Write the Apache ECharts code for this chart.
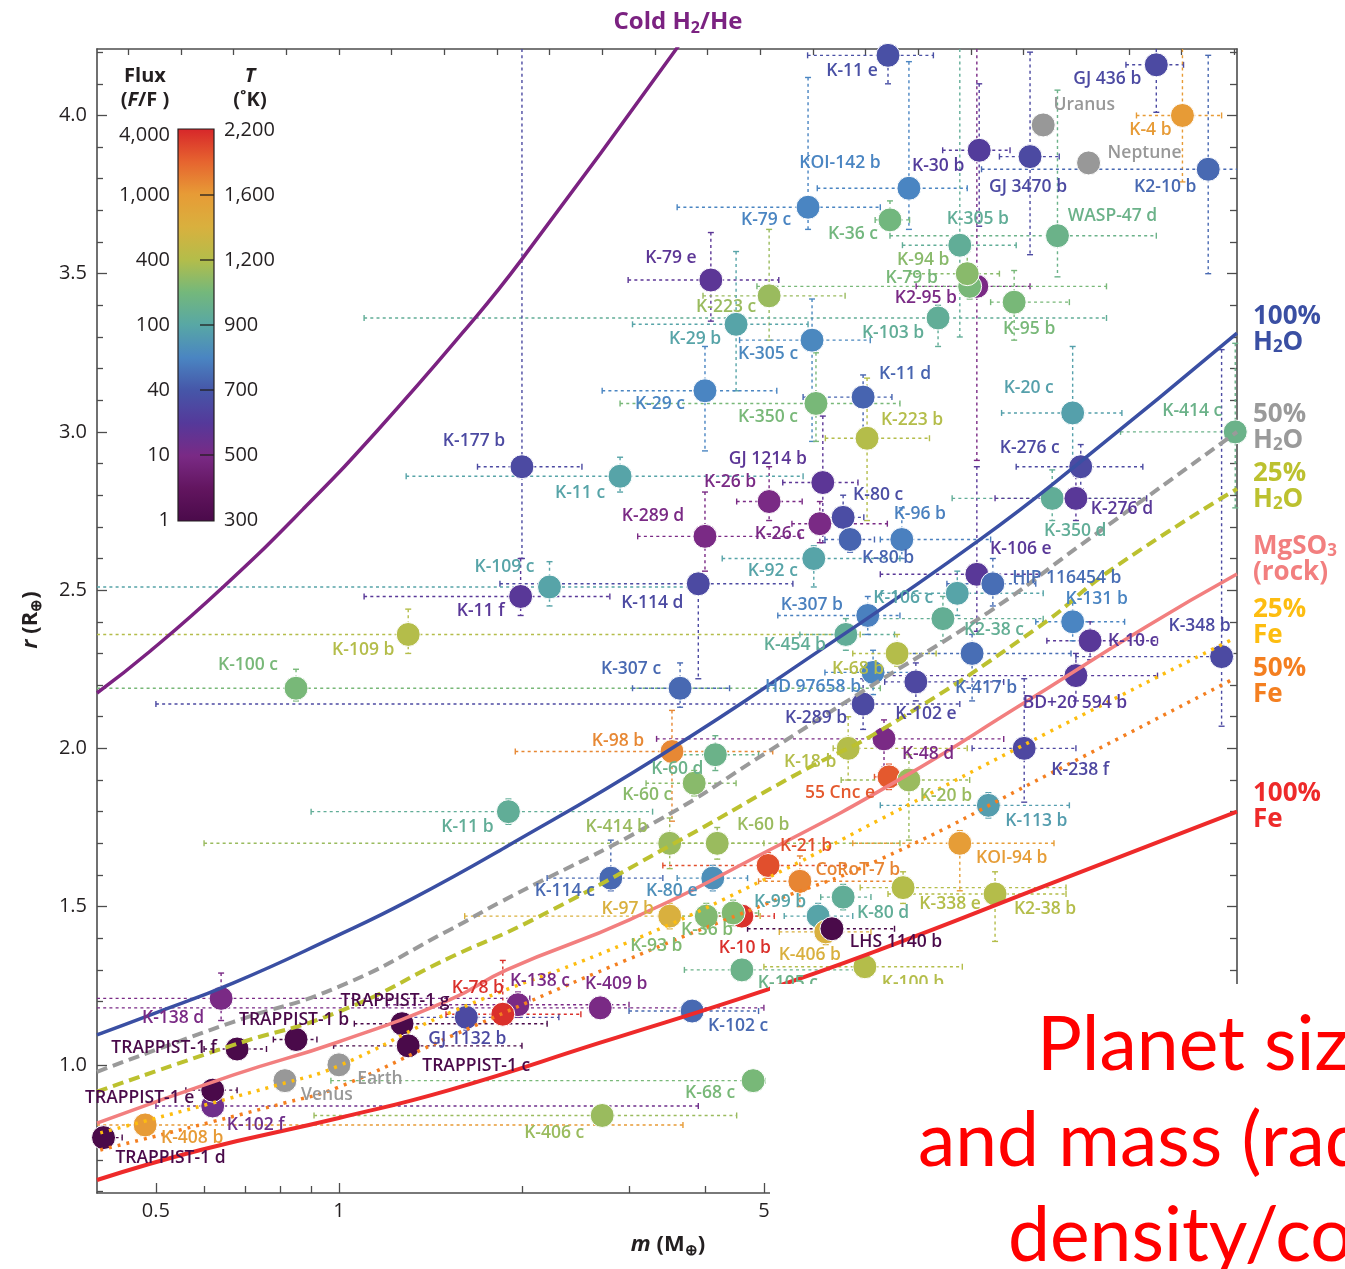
<!DOCTYPE html>
<html>
<head>
<meta charset="utf-8">
<title>Exoplanet mass–radius diagram</title>
<script src="https://cdn.jsdelivr.net/npm/echarts@6/dist/echarts.min.js"></script>
<style>
  html, body { margin: 0; padding: 0; background: #fff; }
  #chart { width: 1345px; height: 1269px; }
</style>
</head>
<body>
<div id="chart"></div>
<script>
// ---------------------------------------------------------------------------
// Axis ticks and colour-bar ticks
// ---------------------------------------------------------------------------
const massTicksMajor = [0.5, 1, 5];
const massTicksMinor = [0.6, 0.7, 0.8, 0.9, 2, 3, 4];
const radiusTicksMajor = [1.0, 1.5, 2.0, 2.5, 3.0, 3.5, 4.0];
const tempTicks = [300, 500, 700, 900, 1200, 1600, 2200];   // K
const fluxTicks = [1, 10, 40, 100, 400, 1000, 4000];       // F / F(Earth)

// ---------------------------------------------------------------------------
// Planets: name, mass (M⊕), radius (R⊕), equilibrium temperature (K)
// Solar-system bodies carry no temperature and are drawn grey.
// ---------------------------------------------------------------------------
const planets = [
  ['K-11 e', 8.0, 4.19, 680],
  ['GJ 436 b', 22.1, 4.16, 660],
  ['Uranus', 14.4, 3.97, null],
  ['K-4 b', 24.4, 4.0, 1600],
  ['Neptune', 17.1, 3.85, null],
  ['K-30 b', 11.3, 3.89, 610],
  ['GJ 3470 b', 13.7, 3.87, 660],
  ['K2-10 b', 26.9, 3.83, 740],
  ['KOI-142 b', 8.66, 3.77, 800],
  ['K-79 c', 5.91, 3.71, 800],
  ['K-36 c', 8.06, 3.67, 1040],
  ['K-305 b', 10.5, 3.59, 950],
  ['WASP-47 d', 15.2, 3.62, 1000],
  ['K-79 e', 4.09, 3.48, 580],
  ['K2-95 b', 11.2, 3.46, 500],
  ['K-79 b', 10.9, 3.46, 1060],
  ['K-94 b', 10.8, 3.50, 1100],
  ['K-223 c', 5.10, 3.43, 1140],
  ['K-95 b', 12.9, 3.41, 1060],
  ['K-103 b', 9.67, 3.36, 950],
  ['K-29 b', 4.50, 3.34, 890],
  ['K-305 c', 6.0, 3.29, 810],
  ['K-20 c', 16.1, 3.06, 880],
  ['K-414 c', 29.8, 3.0, 1000],
  ['K-29 c', 4.0, 3.13, 800],
  ['K-350 c', 6.09, 3.09, 1060],
  ['K-11 d', 7.28, 3.11, 730],
  ['K-223 b', 7.39, 2.98, 1200],
  ['K-177 b', 2.0, 2.89, 660],
  ['K-11 c', 2.90, 2.86, 890],
  ['GJ 1214 b', 6.25, 2.84, 580],
  ['K-26 b', 5.10, 2.78, 500],
  ['K-80 c', 6.75, 2.73, 670],
  ['K-26 c', 6.18, 2.71, 500],
  ['K-289 d', 4.0, 2.67, 500],
  ['K-80 b', 6.93, 2.66, 730],
  ['K-96 b', 8.43, 2.66, 790],
  ['K-92 c', 6.04, 2.60, 890],
  ['K-114 d', 3.90, 2.52, 660],
  ['K-109 c', 2.22, 2.51, 890],
  ['K-11 f', 1.99, 2.48, 590],
  ['K-109 b', 1.30, 2.36, 1200],
  ['K-100 c', 0.85, 2.19, 1060],
  ['K-307 c', 3.64, 2.19, 740],
  ['K-454 b', 6.82, 2.36, 950],
  ['HD 97658 b', 7.56, 2.24, 800],
  ['K-68 b', 8.28, 2.30, 1200],
  ['K-289 b', 7.28, 2.14, 660],
  ['K-102 e', 8.89, 2.21, 650],
  ['K-48 d', 7.88, 2.03, 500],
  ['K-98 b', 3.53, 1.99, 1700],
  ['K-60 d', 4.16, 1.98, 1000],
  ['K-18 b', 6.88, 2.0, 1200],
  ['K-60 c', 3.84, 1.89, 1100],
  ['55 Cnc e', 8.03, 1.91, 1950],
  ['K-20 b', 8.66, 1.90, 1140],
  ['K-238 f', 13.4, 2.0, 650],
  ['BD+20 594 b', 16.3, 2.23, 600],
  ['K-348 b', 28.3, 2.29, 660],
  ['K-10 c', 17.2, 2.34, 590],
  ['K-131 b', 16.1, 2.40, 800],
  ['K2-38 c', 9.85, 2.41, 960],
  ['K-417 b', 11.0, 2.30, 750],
  ['K-106 c', 10.4, 2.49, 890],
  ['K-106 e', 11.2, 2.55, 590],
  ['HIP 116454 b', 11.9, 2.52, 750],
  ['K-307 b', 7.41, 2.42, 790],
  ['K-350 d', 14.9, 2.79, 950],
  ['K-276 d', 16.3, 2.79, 590],
  ['K-276 c', 16.6, 2.89, 660],
  ['K-11 b', 1.90, 1.80, 950],
  ['K-414 b', 3.50, 1.70, 1140],
  ['K-60 b', 4.19, 1.70, 1140],
  ['K-21 b', 5.08, 1.63, 2000],
  ['CoRoT-7 b', 5.73, 1.58, 1720],
  ['K-114 c', 2.80, 1.59, 740],
  ['K-80 e', 4.12, 1.59, 830],
  ['K-97 b', 3.50, 1.47, 1400],
  ['K-10 b', 4.60, 1.47, 2150],
  ['K-93 b', 4.02, 1.47, 1080],
  ['K-36 b', 4.45, 1.48, 1080],
  ['K-99 b', 6.14, 1.47, 890],
  ['K-80 d', 6.75, 1.53, 950],
  ['K-406 b', 6.32, 1.42, 1400],
  ['LHS 1140 b', 6.47, 1.43, 300],
  ['K-338 e', 8.47, 1.56, 1200],
  ['K2-38 b', 12.0, 1.54, 1200],
  ['KOI-94 b', 10.5, 1.70, 1580],
  ['K-113 b', 11.7, 1.82, 870],
  ['K-105 c', 4.60, 1.30, 1000],
  ['K-100 b', 7.33, 1.31, 1200],
  ['K-138 c', 1.97, 1.19, 500],
  ['K-78 b', 1.86, 1.16, 2150],
  ['K-409 b', 2.69, 1.18, 500],
  ['GJ 1132 b', 1.62, 1.15, 660],
  ['K-102 c', 3.81, 1.17, 740],
  ['K-68 c', 4.80, 0.95, 1060],
  ['K-406 c', 2.71, 0.84, 1140],
  ['TRAPPIST-1 g', 1.27, 1.13, 300],
  ['TRAPPIST-1 c', 1.30, 1.06, 300],
  ['TRAPPIST-1 b', 0.85, 1.08, 300],
  ['TRAPPIST-1 f', 0.68, 1.05, 300],
  ['K-138 d', 0.64, 1.21, 500],
  ['K-102 f', 0.62, 0.87, 530],
  ['TRAPPIST-1 e', 0.62, 0.92, 300],
  ['K-408 b', 0.48, 0.81, 1600],
  ['TRAPPIST-1 d', 0.41, 0.77, 300],
  ['Venus', 0.815, 0.95, null],
  ['Earth', 1.0, 1.0, null]
];

// Uncertainty ranges: [mass low, mass high, radius low, radius high]
const errorBars = {
  'K-11 e': [5.9, 9.5, 4.10, 4.3],
  'GJ 436 b': [19.7, 24.5, 4.01, 4.3],
  'K-4 b': [20.5, 28.3, 3.79, 4.3],
  'K-30 b': [9.84, 12.7, 3.65, 4.10],
  'GJ 3470 b': [12.2, 15.3, 3.56, 4.20],
  'K2-10 b': [11.4, 31, 3.50, 4.19],
  'KOI-142 b': [6.12, 10.8, 3.64, 4.17],
  'K-79 c': [3.60, 7.77, 3.64, 4.12],
  'K-36 c': [7.62, 8.68, 3.64, 3.73],
  'K-305 b': [8.45, 13.0, 3.30, 4.3],
  'WASP-47 d': [8.06, 22.1, 3.49, 4.08],
  'K-79 e': [2.99, 5.29, 3.35, 3.63],
  'K2-95 b': [8.9, 13.7, 2.91, 4.3],
  'K-79 b': [4.87, 18.3, 3.42, 3.52],
  'K-94 b': [8.68, 12.2, 3.45, 3.57],
  'K-223 c': [3.97, 6.80, 3.29, 3.64],
  'K-95 b': [11.8, 15.9, 3.29, 3.51],
  'K-103 b': [1.10, 18.3, 3.27, 3.40],
  'K-29 b': [3.04, 5.91, 3.13, 3.57],
  'K-305 c': [4.56, 7.48, 2.97, 3.42],
  'K-20 c': [12.3, 19.4, 2.88, 3.27],
  'K-414 c': [19.3, 31, 2.76, 3.28],
  'K-29 c': [2.71, 5.25, 2.94, 3.27],
  'K-350 c': [2.90, 8.37, 2.97, 3.25],
  'K-11 d': [5.80, 8.12, 2.99, 3.18],
  'K-223 b': [6.31, 9.36, 2.72, 3.17],
  'K-177 b': [1.69, 2.51, 2.60, 4.3],
  'K-11 c': [1.29, 5.80, 2.81, 2.92],
  'GJ 1214 b': [5.37, 7.14, 2.65, 3.05],
  'K-26 b': [4.51, 5.78, 2.72, 2.89],
  'K-80 c': [6.2, 7.3, 2.70, 2.80],
  'K-26 c': [5.56, 7.98, 2.65, 2.78],
  'K-289 d': [3.10, 5.73, 2.56, 2.81],
  'K-80 b': [6.3, 7.6, 2.62, 2.71],
  'K-96 b': [7.77, 11.8, 2.60, 2.76],
  'K-92 c': [4.27, 8.37, 2.51, 2.64],
  'K-114 d': [1.84, 5.58, 2.22, 2.55],
  'K-109 c': [0.39, 3.78, 2.45, 2.59],
  'K-11 f': [1.10, 2.79, 2.42, 2.60],
  'K-109 b': [0.39, 7.2, 2.30, 2.44],
  'K-100 c': [0.39, 7.77, 2.15, 2.25],
  'K-307 c': [3.04, 4.39, 2.13, 2.27],
  'K-454 b': [5.73, 8.2, 2.31, 2.41],
  'HD 97658 b': [6.3, 8.9, 2.17, 2.31],
  'K-68 b': [7.0, 9.6, 2.26, 2.36],
  'K-289 b': [0.50, 10.5, 2.06, 2.22],
  'K-102 e': [7.9, 12.4, 2.15, 2.27],
  'K-48 d': [3.33, 12.4, 1.94, 2.09],
  'K-98 b': [1.95, 5.17, 1.77, 2.12],
  'K-60 d': [3.6, 4.9, 1.93, 2.04],
  'K-18 b': [6.5, 10.8, 1.90, 2.10],
  'K-60 c': [3.2, 4.5, 1.85, 1.93],
  '55 Cnc e': [7.6, 8.5, 1.87, 1.95],
  'K-20 b': [6.7, 10.9, 1.71, 1.98],
  'K-238 f': [11.0, 16.3, 1.83, 2.22],
  'BD+20 594 b': [7.77, 22.2, 2.15, 2.30],
  'K-348 b': [16.3, 29.5, 2.07, 3.26],
  'K-10 c': [14.6, 22.2, 2.28, 2.40],
  'K-131 b': [14.0, 19.6, 2.34, 2.46],
  'K2-38 c': [7.5, 14.4, 2.34, 2.48],
  'K-417 b': [8.0, 16.0, 2.15, 2.36],
  'K-106 c': [7.8, 14.4, 2.42, 2.56],
  'K-106 e': [7.77, 14.2, 2.37, 2.89],
  'HIP 116454 b': [10.0, 14.0, 2.45, 2.60],
  'K-307 b': [5.27, 8.37, 2.36, 2.48],
  'K-350 d': [10.2, 21.3, 2.72, 2.88],
  'K-276 d': [12.0, 21.3, 2.72, 2.86],
  'K-276 c': [13.0, 21.0, 2.82, 2.96],
  'K-11 b': [0.90, 3.28, 1.76, 1.84],
  'K-414 b': [0.60, 8.37, 1.62, 1.78],
  'K-60 b': [3.5, 5.0, 1.65, 1.75],
  'K-21 b': [3.41, 6.80, 1.59, 1.67],
  'CoRoT-7 b': [4.9, 8.37, 1.50, 1.66],
  'K-114 c': [2.20, 3.41, 1.55, 1.71],
  'K-80 e': [3.6, 4.7, 1.55, 1.63],
  'K-97 b': [1.61, 4.93, 1.43, 1.51],
  'K-10 b': [4.1, 5.2, 1.44, 1.50],
  'K-93 b': [3.5, 4.6, 1.43, 1.51],
  'K-36 b': [4.0, 4.9, 1.44, 1.52],
  'K-99 b': [5.4, 7.0, 1.43, 1.51],
  'K-80 d': [6.2, 7.5, 1.49, 1.57],
  'K-406 b': [5.3, 7.5, 1.38, 1.46],
  'LHS 1140 b': [4.7, 8.2, 1.41, 1.45],
  'K-338 e': [7.2, 15.7, 1.51, 1.61],
  'K2-38 b': [8.0, 15.7, 1.39, 1.61],
  'KOI-94 b': [7.0, 15.0, 1.55, 1.74],
  'K-113 b': [7.77, 15.9, 1.78, 1.86],
  'K-105 c': [3.7, 7.2, 1.27, 1.33],
  'K-100 b': [5.0, 10.6, 1.28, 1.34],
  'K-138 c': [1.2, 3.0, 1.15, 1.23],
  'K-78 b': [1.5, 2.5, 1.15, 1.33],
  'K-409 b': [0.39, 5.0, 1.15, 1.21],
  'GJ 1132 b': [1.3, 2.3, 1.11, 1.19],
  'K-102 c': [3.0, 4.9, 1.15, 1.20],
  'K-68 c': [0.97, 5.02, 0.93, 0.97],
  'K-406 c': [0.91, 4.51, 0.82, 0.86],
  'TRAPPIST-1 g': [1.06, 2.2, 1.11, 1.15],
  'TRAPPIST-1 c': [0.98, 2.0, 1.04, 1.08],
  'TRAPPIST-1 b': [0.78, 0.92, 1.06, 1.10],
  'TRAPPIST-1 f': [0.60, 0.76, 1.03, 1.07],
  'K-138 d': [0.39, 2.06, 1.14, 1.29],
  'K-102 f': [0.50, 3.9, 0.84, 0.90],
  'TRAPPIST-1 e': [0.56, 0.68, 0.90, 0.94],
  'K-408 b': [0.39, 3.68, 0.79, 0.83],
  'TRAPPIST-1 d': [0.39, 0.44, 0.75, 0.79]
};

// Where each name sits relative to its marker, in pixels [dx, dy]
const labelOffsets = {
  'K-11 e': [-36, 16], 'GJ 436 b': [-49, 14], 'Uranus': [41, -20], 'K-4 b': [-32, 15],
  'Neptune': [56, -10], 'K-30 b': [-41, 16], 'GJ 3470 b': [-2, 30], 'K2-10 b': [-43, 18],
  'KOI-142 b': [-69, -25], 'K-79 c': [-42, 13], 'K-36 c': [-37, 14], 'K-305 b': [18, -26],
  'WASP-47 d': [55, -20], 'K-79 e': [-40, -22], 'K-94 b': [-44, -14], 'K-79 b': [-58, -8],
  'K2-95 b': [-51, 12], 'K-223 c': [-43, 11], 'K-95 b': [15, 27], 'K-103 b': [-45, 15],
  'K-29 b': [-41, 15], 'K-305 c': [-44, 14], 'K-20 c': [-44, -25], 'K-414 c': [-43, -21],
  'K-29 c': [-45, 13], 'K-350 c': [-48, 14], 'K-11 d': [42, -23], 'K-223 b': [45, -18],
  'K-177 b': [-48, -26], 'K-11 c': [-40, 17], 'GJ 1214 b': [-55, -24], 'K-26 b': [-39, -20],
  'K-80 c': [35, -22], 'K-26 c': [-40, 10], 'K-289 d': [-52, -20], 'K-80 b': [38, 19],
  'K-96 b': [18, -25], 'K-92 c': [-41, 13], 'K-114 d': [-46, 19], 'K-109 c': [-45, -20],
  'K-11 f': [-40, 15], 'K-109 b': [-45, 16], 'K-100 c': [-48, -23], 'K-307 c': [-49, -19],
  'K-454 b': [-51, 11], 'K-68 b': [-39, 16], 'HD 97658 b': [-60, 15], 'K-289 b': [-47, 14],
  'K-102 e': [10, 32], 'K-48 d': [44, 15], 'K-98 b': [-54, -11], 'K-60 d': [-38, 14],
  'K-18 b': [-38, 14], 'K-60 c': [-47, 12], '55 Cnc e': [-49, 16], 'K-20 b': [37, 16],
  'K-238 f': [56, 22], 'BD+20 594 b': [-1, 27], 'K-348 b': [-22, -31], 'K-10 c': [43, 0],
  'K-131 b': [24, -23], 'K2-38 c': [51, 11], 'K-417 b': [14, 35], 'K-106 e': [44, -25],
  'HIP 116454 b': [74, -6], 'K-106 c': [-54, 5], 'K-307 b': [-56, -10], 'K-350 d': [23, 33],
  'K-276 d': [46, 11], 'K-276 c': [-51, -19], 'K-11 b': [-41, 15], 'K-414 b': [-53, -16],
  'K-60 b': [46, -18], 'K-21 b': [38, -19], 'CoRoT-7 b': [58, -11], 'K-114 c': [-46, 13],
  'K-80 e': [-41, 13], 'K-97 b': [-42, -7], 'K-93 b': [-50, 30], 'K-36 b': [-26, 17],
  'K-10 b': [3, 32], 'K-99 b': [-38, -14], 'K-80 d': [40, 16], 'LHS 1140 b': [64, 13],
  'K-406 b': [-16, 23], 'K-338 e': [47, 16], 'K2-38 b': [50, 15], 'KOI-94 b': [52, 15],
  'K-113 b': [48, 16], 'K-105 c': [46, 13], 'K-100 b': [48, 16], 'K-138 c': [22, -24],
  'K-78 b': [-25, -26], 'K-409 b': [16, -24], 'GJ 1132 b': [1, 22], 'K-102 c': [46, 15],
  'K-68 c': [-43, 12], 'K-406 c': [-48, 18], 'TRAPPIST-1 g': [-7, -23], 'TRAPPIST-1 c': [68, 20],
  'TRAPPIST-1 b': [-2, -20], 'TRAPPIST-1 f': [-73, -1], 'K-138 d': [-48, 20], 'TRAPPIST-1 e': [-73, 8],
  'K-102 f': [43, 19], 'K-408 b': [47, 13], 'TRAPPIST-1 d': [67, 20], 'Venus': [42, 14],
  'Earth': [41, 14]
};

// ---------------------------------------------------------------------------
// Composition models: [mass (M⊕), radius (R⊕)]
// ---------------------------------------------------------------------------
const coldH2He = [[0.40, 2.175], [0.489, 2.307], [0.645, 2.51], [0.873, 2.756], [1.155, 3.003],
  [1.60, 3.315], [2.0, 3.546], [3.625, 4.222]];
const water100 = [[0.40, 1.095], [0.49, 1.158], [0.671, 1.259], [0.978, 1.402], [1.312, 1.522],
  [1.876, 1.687], [3.37, 1.976], [6.12, 2.304], [11.3, 2.658], [16.5, 2.902], [30, 3.312]];
const water50 = [[0.40, 0.978], [0.671, 1.136], [1.0, 1.247], [1.523, 1.427], [1.838, 1.513],
  [3.37, 1.775], [5.05, 1.987], [7.36, 2.187], [11.7, 2.43], [16.5, 2.639], [30, 3.0]];
const water25 = [[0.40, 0.915], [0.671, 1.063], [1.0, 1.168], [1.523, 1.339], [2.087, 1.459],
  [3.735, 1.722], [5.73, 1.924], [7.83, 2.06], [14.0, 2.377], [18.68, 2.566], [30, 2.82]];
const rockMgSiO3 = [[0.40, 0.816], [0.671, 0.968], [1.0, 1.073], [1.523, 1.206], [1.891, 1.301],
  [3.01, 1.459], [5.05, 1.674], [8.36, 1.902], [13.2, 2.136], [21.2, 2.383], [30, 2.551]];
const iron25 = [[0.405, 0.785], [0.816, 0.943], [1.0, 0.997], [1.523, 1.165], [2.98, 1.386],
  [5.0, 1.585], [7.76, 1.775], [14.7, 2.051], [29.5, 2.345]];
const iron50 = [[0.405, 0.731], [0.816, 0.88], [1.0, 0.93], [1.523, 1.089], [2.98, 1.332],
  [5.0, 1.506], [7.76, 1.649], [14.7, 1.918], [29.5, 2.218]];
const iron100 = [[0.40, 0.636], [0.592, 0.731], [1.0, 0.832], [1.523, 0.921], [2.69, 1.07],
  [5.05, 1.237], [7.76, 1.364], [14.7, 1.57], [30, 1.80]];

// ---------------------------------------------------------------------------
// Styling helpers
// ---------------------------------------------------------------------------
const FONT = "'Open Sans', 'Noto Sans', sans-serif";
const INK = '#231f20';
const AXIS = '#4d4d4d';
const SOLAR_GREY = '#989898';

// Temperature colour ramp, bottom (300 K) to top (2,200 K), one colour per half tick
const ramp = ['#4a0a4a', '#62155f', '#7a2a85', '#55399a', '#4656a8', '#4a85c2', '#58a7a5',
  '#74b87b', '#b4bd4a', '#d9b03e', '#e79b36', '#e6632f', '#d7262a'];

// Position of a temperature along the bar (0 = 300 K ... 6 = 2,200 K)
function tempToBar(t) {
  for (let i = 0; i < tempTicks.length - 1; i++) {
    if (t <= tempTicks[i + 1]) {
      return i + (t - tempTicks[i]) / (tempTicks[i + 1] - tempTicks[i]);
    }
  }
  return tempTicks.length - 1;
}

const exoRows = [];
const solarRows = [];
planets.forEach((p, i) => {
  if (p[3] == null) solarRows.push([p[1], p[2], 0, i]);
  else exoRows.push([p[1], p[2], tempToBar(p[3]), i]);
});
const barRows = planets.filter(p => errorBars[p[0]]).map(p => {
  const e = errorBars[p[0]];
  return [p[1], p[2], tempToBar(p[3]), e[0], e[1], e[2], e[3]];
});

const radiusTicksMinor = [];
for (let k = 6; k <= 42; k++) {
  if (k % 5 !== 0) radiusTicksMinor.push(k / 10);
}
const topTicks = [];
for (let k = 0; k <= 21; k++) topTicks.push(k);

// ---------------------------------------------------------------------------
// Series renderers
// ---------------------------------------------------------------------------
function renderErrorBar(params, api) {
  const m = api.value(0), r = api.value(1);
  const c = api.coord([m, r]);
  const lo = api.coord([api.value(3), r]);
  const hi = api.coord([api.value(4), r]);
  const bot = api.coord([m, api.value(5)]);
  const top = api.coord([m, api.value(6)]);
  const cs = params.coordSys;
  const x0 = cs.x, x1 = cs.x + cs.width, y0 = cs.y, y1 = cs.y + cs.height;
  const cx = v => Math.max(x0, Math.min(x1, v));
  const cy = v => Math.max(y0, Math.min(y1, v));
  const color = api.visual('color');
  const dash = { stroke: color, lineWidth: 1.4, lineDash: [3, 3.2], fill: null };
  const solid = { stroke: color, lineWidth: 1.4, fill: null };
  const kids = [
    { type: 'line', shape: { x1: cx(lo[0]), y1: c[1], x2: cx(hi[0]), y2: c[1] }, style: dash },
    { type: 'line', shape: { x1: c[0], y1: cy(top[1]), x2: c[0], y2: cy(bot[1]) }, style: dash }
  ];
  const cap = 3;
  if (lo[0] >= x0) kids.push({ type: 'line', shape: { x1: lo[0], y1: c[1] - cap, x2: lo[0], y2: c[1] + cap }, style: solid });
  if (hi[0] <= x1) kids.push({ type: 'line', shape: { x1: hi[0], y1: c[1] - cap, x2: hi[0], y2: c[1] + cap }, style: solid });
  if (top[1] >= y0) kids.push({ type: 'line', shape: { x1: c[0] - cap, y1: top[1], x2: c[0] + cap, y2: top[1] }, style: solid });
  if (bot[1] <= y1) kids.push({ type: 'line', shape: { x1: c[0] - cap, y1: bot[1], x2: c[0] + cap, y2: bot[1] }, style: solid });
  return { type: 'group', children: kids };
}

function makeLabelRenderer(fixedColor) {
  return function (params, api) {
    const p = api.coord([api.value(0), api.value(1)]);
    const name = planets[api.value(3)][0];
    const off = labelOffsets[name] || [0, 0];
    return {
      type: 'text',
      x: p[0] + off[0],
      y: p[1] + off[1],
      style: {
        text: name,
        fill: fixedColor || api.visual('color'),
        fontFamily: FONT,
        fontSize: 17.5,
        fontWeight: 600,
        align: 'center',
        verticalAlign: 'middle'
      }
    };
  };
}

function curve(name, data, color, width, type) {
  return {
    name, type: 'line', data, xAxisIndex: 0, yAxisIndex: 0,
    showSymbol: false, symbol: 'none', smooth: 0.5, silent: true, z: 3,
    lineStyle: { color, width, type, cap: 'butt' }
  };
}

// ---------------------------------------------------------------------------
// Graphic overlays: colour bar, headings, model names, caption
// ---------------------------------------------------------------------------
const BAR = { x: 178, top: 130, bottom: 520, width: 36 };
const barStep = (BAR.bottom - BAR.top) / (tempTicks.length - 1);

function richText(x, y, text, rich, extra) {
  return Object.assign({
    type: 'text', x, y, silent: true, z: 20,
    style: { text, rich, align: 'center', verticalAlign: 'middle' }
  }, extra || {});
}

function token(size, color, weight, style, lineHeight) {
  return { fontSize: size, fill: color, fontWeight: weight || 'bold', fontStyle: style || 'normal',
    fontFamily: FONT, lineHeight: lineHeight || Math.round(size * 1.0) };
}
function subToken(size, color) {
  return { fontSize: size, fill: color, fontWeight: 'bold', fontFamily: FONT,
    lineHeight: Math.round(size * 0.8), verticalAlign: 'bottom' };
}

const graphics = [];

// colour bar
graphics.push({
  type: 'rect', silent: true, z: 10,
  shape: { x: BAR.x, y: BAR.top - 1, width: BAR.width, height: BAR.bottom - BAR.top + 2 },
  style: {
    fill: new echarts.graphic.LinearGradient(0, 1, 0, 0,
      ramp.map((c, i) => ({ offset: i / (ramp.length - 1), color: c }))),
    stroke: INK, lineWidth: 1.2
  }
});
tempTicks.forEach((t, i) => {
  const y = BAR.bottom - i * barStep;
  if (i > 0 && i < tempTicks.length - 1) {
    graphics.push({ type: 'line', silent: true, z: 11,
      shape: { x1: BAR.x + 22, y1: y, x2: BAR.x + BAR.width, y2: y },
      style: { stroke: INK, lineWidth: 1.3 } });
  }
  graphics.push({ type: 'text', silent: true, z: 11, x: BAR.x + BAR.width + 10, y,
    style: { text: t.toLocaleString('en-US'), fill: INK, fontFamily: FONT, fontSize: 20,
      align: 'left', verticalAlign: 'middle' } });
});
fluxTicks.forEach((f, i) => {
  const y = BAR.bottom - i * barStep + (i === fluxTicks.length - 1 ? 5 : 0);
  graphics.push({ type: 'text', silent: true, z: 11, x: BAR.x - 8, y,
    style: { text: f.toLocaleString('en-US'), fill: INK, fontFamily: FONT, fontSize: 20,
      align: 'right', verticalAlign: 'middle' } });
});
graphics.push(richText(145, 76, '{b|Flux}', { b: token(20, INK) }));
graphics.push(richText(145, 100, '{b|(}{i|F}{b|/F )}', { b: token(20, INK), i: token(20, INK, 'bold', 'italic') }));
graphics.push(richText(250, 76, '{i|T}', { i: token(20, INK, 'bold', 'italic') }));
graphics.push(richText(250, 100, '{b|(˚K)}', { b: token(20, INK) }));

// heading of the cold hydrogen/helium model
graphics.push(richText(678, 22, '{a|Cold H}{s|2}{a|/He}',
  { a: token(24, '#7b2281', 'bold', 'normal', 28), s: subToken(16, '#7b2281') }));

// model names along the right edge
const modelNames = [
  [330, '{a|100%}\n{a|H}{s|2}{a|O}', '#3a4fa3'],
  [428, '{a|50%}\n{a|H}{s|2}{a|O}', '#9a9a9a'],
  [487, '{a|25%}\n{a|H}{s|2}{a|O}', '#bcc12f'],
  [560, '{a|MgSO}{s|3}\n{a|(rock)}', '#f27f7f'],
  [623, '{a|25%}\n{a|Fe}', '#fdbd10'],
  [682, '{a|50%}\n{a|Fe}', '#f47f20'],
  [807, '{a|100%}\n{a|Fe}', '#ee2a2a']
];
modelNames.forEach(([y, text, color]) => {
  graphics.push({
    type: 'text', silent: true, z: 20, x: 1253, y,
    style: { text, align: 'left', verticalAlign: 'middle',
      rich: { a: token(26, color, 'bold', 'normal', 26), s: subToken(17, color) } }
  });
});

// axis titles
graphics.push(richText(668, 1245, '{i|m}{n| (M}{s|⊕}{n|)}',
  { i: token(22, INK, 'bold', 'italic', 26), n: token(22, INK, 'bold', 'normal', 26), s: subToken(15, INK) }));
graphics.push(richText(31, 620, '{i|r}{n| (R}{s|⊕}{n|)}',
  { i: token(22, INK, 'bold', 'italic', 26), n: token(22, INK, 'bold', 'normal', 26), s: subToken(15, INK) },
  { rotation: Math.PI / 2 }));

// caption panel in the lower right corner
graphics.push({ type: 'rect', silent: true, z: 100,
  shape: { x: 770, y: 984, width: 600, height: 300 }, style: { fill: '#ffffff' } });
[['Planet size', 1037, 1046], ['and mass (radius', 918, 1142], ['density/composition', 1008, 1237]]
  .forEach(([text, x, y]) => {
    graphics.push({ type: 'text', silent: true, z: 101, x, y,
      style: { text, fill: '#ff0000', fontFamily: "'Lato', 'Open Sans', sans-serif", fontSize: 75,
        align: 'left', verticalAlign: 'middle' } });
  });

// ---------------------------------------------------------------------------
// Chart
// ---------------------------------------------------------------------------
const chart = echarts.init(document.getElementById('chart'), null, { renderer: 'canvas' });

const tickStyle = { color: AXIS, width: 1.3 };
const lineStyle = { color: AXIS, width: 1.6 };

chart.setOption({
  animation: false,
  backgroundColor: '#ffffff',
  grid: { left: 97, top: 49, width: 1140, height: 1144, outerBoundsMode: 'none', containLabel: false },
  visualMap: {
    type: 'continuous', show: false, dimension: 2, min: 0, max: tempTicks.length - 1,
    seriesIndex: [0, 1, 11],
    inRange: { color: ramp }
  },
  xAxis: [
    {
      type: 'log', logBase: 10, min: 0.4, max: 30, position: 'bottom',
      axisLine: { show: true, onZero: false, lineStyle },
      axisTick: { show: true, inside: true, length: 10, customValues: massTicksMajor, lineStyle: tickStyle },
      axisLabel: { show: true, customValues: massTicksMajor, formatter: v => String(v),
        color: INK, fontFamily: FONT, fontSize: 20, margin: 8 },
      splitLine: { show: false }, minorTick: { show: false }
    },
    {
      type: 'log', logBase: 10, min: 0.4, max: 30, position: 'bottom',
      axisLine: { show: false, onZero: false },
      axisTick: { show: true, inside: true, length: 7, customValues: massTicksMinor, lineStyle: tickStyle },
      axisLabel: { show: false }, splitLine: { show: false }
    },
    {
      type: 'value', min: -0.59, max: 21.05, position: 'top',
      axisLine: { show: true, onZero: false, lineStyle },
      axisTick: { show: true, inside: true, length: 6, customValues: topTicks, lineStyle: tickStyle },
      axisLabel: { show: false }, splitLine: { show: false }
    }
  ],
  yAxis: [
    {
      type: 'value', min: 0.595, max: 4.21, position: 'left',
      axisLine: { show: true, onZero: false, lineStyle },
      axisTick: { show: true, inside: true, length: 10, customValues: radiusTicksMajor, lineStyle: tickStyle },
      axisLabel: { show: true, customValues: radiusTicksMajor, formatter: v => v.toFixed(1),
        color: INK, fontFamily: FONT, fontSize: 20, margin: 10 },
      splitLine: { show: false }
    },
    {
      type: 'value', min: 0.595, max: 4.21, position: 'left',
      axisLine: { show: false, onZero: false },
      axisTick: { show: true, inside: true, length: 6, customValues: radiusTicksMinor, lineStyle: tickStyle },
      axisLabel: { show: false }, splitLine: { show: false }
    },
    {
      type: 'value', min: 0.595, max: 4.21, position: 'right',
      axisLine: { show: true, onZero: false, lineStyle },
      axisTick: { show: true, inside: true, length: 10, customValues: radiusTicksMajor, lineStyle: tickStyle },
      axisLabel: { show: false }, splitLine: { show: false }
    },
    {
      type: 'value', min: 0.595, max: 4.21, position: 'right',
      axisLine: { show: false, onZero: false },
      axisTick: { show: true, inside: true, length: 7, customValues: radiusTicksMinor, lineStyle: tickStyle },
      axisLabel: { show: false }, splitLine: { show: false }
    }
  ],
  series: [
    { // 0: uncertainty bars
      type: 'custom', name: 'uncertainty', xAxisIndex: 0, yAxisIndex: 0,
      data: barRows, renderItem: renderErrorBar, encode: { x: 0, y: 1 }, silent: true, z: 1
    },
    { // 1: exoplanets, coloured by temperature
      type: 'scatter', name: 'exoplanets', xAxisIndex: 0, yAxisIndex: 0,
      data: exoRows, symbolSize: 24, encode: { x: 0, y: 1 }, silent: true, z: 2,
      itemStyle: { borderColor: '#ffffff', borderWidth: 1, opacity: 1 }
    },
    { // 2: solar-system planets
      type: 'scatter', name: 'solar system', xAxisIndex: 0, yAxisIndex: 0,
      data: solarRows, symbolSize: 24, encode: { x: 0, y: 1 }, silent: true, z: 2,
      itemStyle: { color: SOLAR_GREY, borderColor: '#ffffff', borderWidth: 1, opacity: 1 }
    },
    curve('Cold H2/He', coldH2He, '#7b2281', 3.5, 'solid'),
    curve('100% H2O', water100, '#3a4fa3', 3.5, 'solid'),
    curve('50% H2O', water50, '#9a9a9a', 4, [11, 6]),
    curve('25% H2O', water25, '#bcc12f', 4, [11, 6]),
    curve('MgSiO3 (rock)', rockMgSiO3, '#f27f7f', 3.5, 'solid'),
    curve('25% Fe', iron25, '#fdbd10', 3.5, [3, 6]),
    curve('50% Fe', iron50, '#f47f20', 3.5, [3, 6]),
    curve('100% Fe', iron100, '#ee2a2a', 4, 'solid'),
    { // 11: exoplanet names
      type: 'custom', name: 'names', xAxisIndex: 0, yAxisIndex: 0,
      data: exoRows, renderItem: makeLabelRenderer(null), encode: { x: 0, y: 1 }, silent: true, z: 5, clip: false
    },
    { // 12: solar-system names
      type: 'custom', name: 'solar names', xAxisIndex: 0, yAxisIndex: 0,
      data: solarRows, renderItem: makeLabelRenderer(SOLAR_GREY), encode: { x: 0, y: 1 }, silent: true, z: 5, clip: false
    }
  ],
  graphic: graphics
});
</script>
</body>
</html>
